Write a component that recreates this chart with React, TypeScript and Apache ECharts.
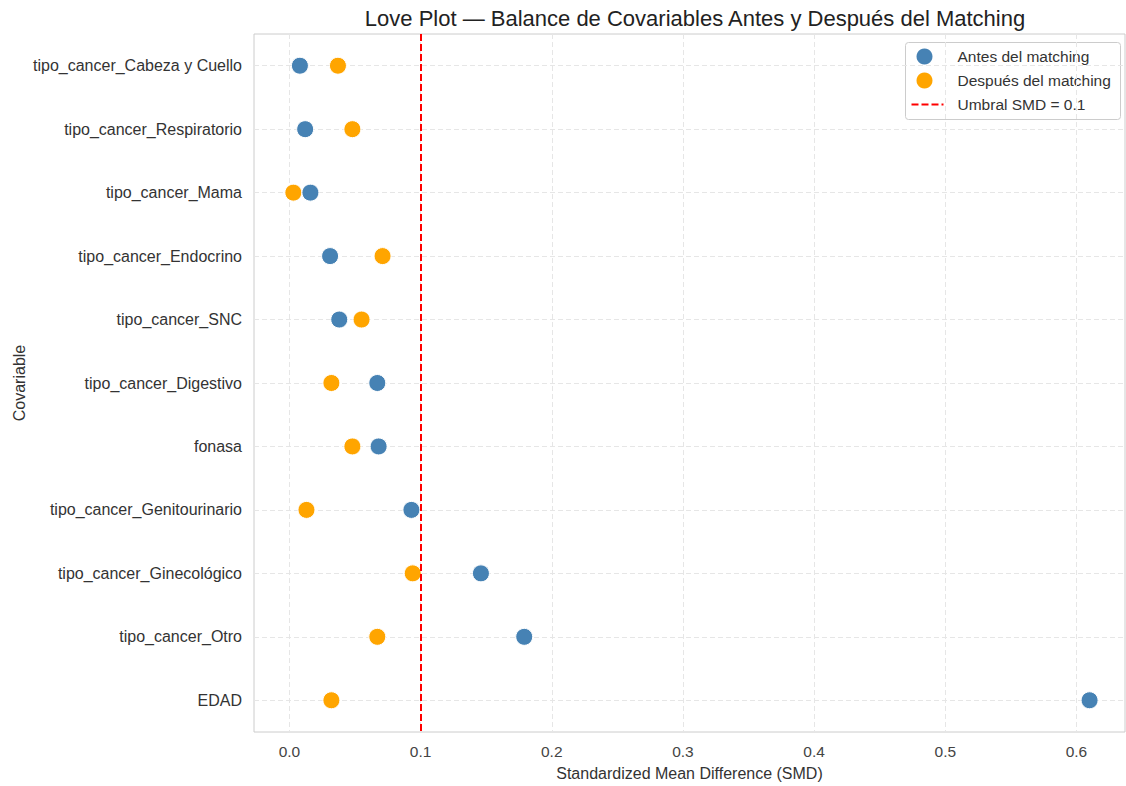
import React, { useEffect, useRef } from "react";
import * as echarts from "echarts";

const categories = [
  "tipo_cancer_Cabeza y Cuello",
  "tipo_cancer_Respiratorio",
  "tipo_cancer_Mama",
  "tipo_cancer_Endocrino",
  "tipo_cancer_SNC",
  "tipo_cancer_Digestivo",
  "fonasa",
  "tipo_cancer_Genitourinario",
  "tipo_cancer_Ginecológico",
  "tipo_cancer_Otro",
  "EDAD",
];
const smdBefore = [0.008, 0.012, 0.016, 0.031, 0.038, 0.067, 0.068, 0.093, 0.146, 0.179, 0.61];
const smdAfter = [0.037, 0.048, 0.003, 0.071, 0.055, 0.032, 0.048, 0.013, 0.094, 0.067, 0.032];
const xTicks = [0, 0.1, 0.2, 0.3, 0.4, 0.5, 0.6];
const threshold = 0.1;
const seriesNames = ["Antes del matching", "Después del matching", "Umbral SMD = 0.1"];

const FONT = "Liberation Sans, Arial, sans-serif";

export default function App() {
  const ref = useRef<HTMLDivElement>(null);
  useEffect(() => {
    if (!ref.current) return;
    const chart = echarts.init(ref.current, undefined, { renderer: "svg" });
    const gridStyle = { color: "#e6e6e6", type: [5, 3] as any, width: 1 };
    const legendText = (text: string, y: number) => ({
      type: "text",
      x: 52,
      y,
      style: { text, fontSize: 15.5, fill: "#333", fontFamily: FONT, verticalAlign: "middle" },
    });
    chart.setOption({
      animation: false,
      backgroundColor: "#ffffff",
      textStyle: { fontFamily: FONT },
      title: {
        text: "Love Plot — Balance de Covariables Antes y Después del Matching",
        left: 690,
        textAlign: "center",
        top: 2,
        textStyle: { fontSize: 22, fontWeight: "normal", color: "#222", fontFamily: FONT },
      },
      grid: {
        left: 254,
        top: 34,
        right: 1,
        bottom: 54,
        containLabel: false,
        outerBoundsMode: "none",
        show: true,
        borderColor: "#cccccc",
        borderWidth: 1,
        backgroundColor: "transparent",
      },
      xAxis: {
        type: "value",
        min: -0.027,
        max: 0.637,
        name: "Standardized Mean Difference (SMD)",
        nameLocation: "middle",
        nameGap: 33,
        nameTextStyle: { fontSize: 16, color: "#333", fontFamily: FONT },
        axisLine: { show: false },
        axisTick: { show: false, customValues: xTicks },
        splitLine: { show: false },
        axisLabel: {
          customValues: xTicks,
          fontSize: 15.5,
          color: "#444",
          margin: 11,
          formatter: (v: number) => v.toFixed(1),
        },
      },
      yAxis: {
        type: "category",
        data: categories,
        inverse: true,
        name: "Covariable",
        nameLocation: "middle",
        nameGap: 227,
        nameMoveOverlap: false,
        nameRotate: 90,
        nameTextStyle: { fontSize: 16, color: "#333", fontFamily: FONT },
        axisLine: { show: false },
        axisTick: { show: false },
        splitLine: { show: false },
        axisLabel: { fontSize: 16, color: "#333", margin: 12 },
      },
      series: [
        {
          name: "gridlines",
          type: "scatter",
          data: [],
          silent: true,
          z: 0,
          markLine: {
            silent: true,
            z: 0,
            symbol: ["none", "none"],
            label: { show: false },
            lineStyle: gridStyle,
            data: [
              ...xTicks.map((v) => ({ xAxis: v })),
              ...categories.map((c) => ({ yAxis: c })),
            ],
          },
        },
        {
          name: seriesNames[1],
          type: "scatter",
          symbolSize: 17,
          data: smdAfter.map((v, i) => [v, categories[i]]),
          itemStyle: { color: "#FFA500", borderColor: "#ffffff", borderWidth: 1, opacity: 1 },
          z: 3,
        },
        {
          name: seriesNames[0],
          type: "scatter",
          symbolSize: 17,
          data: smdBefore.map((v, i) => [v, categories[i]]),
          itemStyle: { color: "#4682B4", borderColor: "#ffffff", borderWidth: 1, opacity: 1 },
          z: 4,
        },
        {
          name: seriesNames[2],
          type: "scatter",
          data: [],
          z: 5,
          markLine: {
            silent: true,
            z: 5,
            symbol: ["none", "none"],
            label: { show: false },
            lineStyle: { color: "#ff0000", type: [7, 3], width: 2 },
            data: [{ xAxis: threshold }],
          },
        },
      ],
      graphic: [
        {
          type: "group",
          left: 905,
          top: 42,
          z: 10,
          children: [
            {
              type: "rect",
              shape: { x: 0, y: 0, width: 215, height: 77, r: 3 },
              style: { fill: "#ffffff", stroke: "#cccccc", lineWidth: 1 },
            },
            { type: "circle", shape: { cx: 19, cy: 14, r: 8 }, style: { fill: "#4682B4" } },
            { type: "circle", shape: { cx: 19, cy: 38, r: 8 }, style: { fill: "#FFA500" } },
            {
              type: "line",
              shape: { x1: 6, y1: 62, x2: 38, y2: 62 },
              style: { stroke: "#ff0000", lineWidth: 2, lineDash: [7, 3] },
            },
            legendText(seriesNames[0], 14),
            legendText(seriesNames[1], 38),
            legendText(seriesNames[2], 62),
          ],
        },
      ],
    });
    return () => chart.dispose();
  }, []);
  return (
    <div
      ref={ref}
      style={{ position: "fixed", left: 0, top: 0, width: 1126, height: 786, background: "#fff" }}
    />
  );
}
